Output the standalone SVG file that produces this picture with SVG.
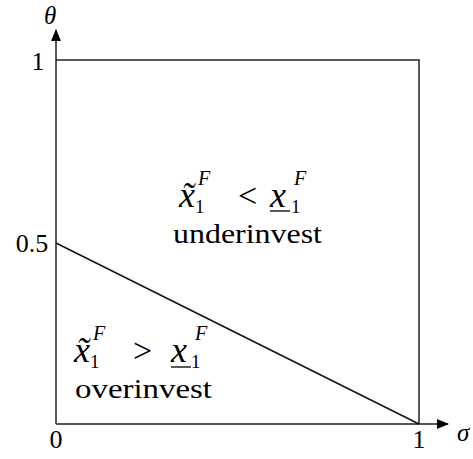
<svg xmlns="http://www.w3.org/2000/svg" width="473" height="459" viewBox="0 0 473 459">
<style>
.t{font-family:"Liberation Serif","DejaVu Serif",serif;fill:#000}
.m{font-family:"Liberation Serif","DejaVu Serif",serif;font-style:italic;fill:#000}
.ax{stroke:#555;stroke-width:2;fill:none}
.bd{stroke:#222;stroke-width:1.5;fill:none}
</style>
<defs>
<marker id="ar" viewBox="0 0 12 10" refX="11" refY="5" markerWidth="12" markerHeight="10" markerUnits="userSpaceOnUse" orient="auto">
<path d="M0,0 L12,5 L0,10 Z" fill="#000"/>
</marker>
</defs>
<rect width="473" height="459" fill="#fff"/>
<g id="connectors">
<line class="ax" x1="56" y1="424" x2="56" y2="30" marker-end="url(#ar)"/>
<line class="ax" x1="56" y1="424" x2="448" y2="424" marker-end="url(#ar)"/>
<polyline class="bd" points="56,60 419,60 419,424"/>
<line stroke="#111" stroke-width="1.5" x1="56" y1="243" x2="419" y2="424"/>
</g>
<g id="labels">
<text class="m" x="44" y="24" font-size="25">θ</text>
<text class="m" x="457" y="441" font-size="25">σ</text>
<text class="t" x="38" y="70" font-size="26" text-anchor="middle">1</text>
<text class="t" x="32" y="252" font-size="26" text-anchor="middle">0.5</text>
<text class="t" x="56" y="448" font-size="26" text-anchor="middle">0</text>
<text class="t" x="419" y="448" font-size="26" text-anchor="middle">1</text>
</g>
<g id="region-under">
<text class="m" x="179" y="207" font-size="36">x̃</text>
<text class="m" x="198" y="185" font-size="20">F</text>
<text class="t" x="195" y="213" font-size="19">1</text>
<text class="t" x="238" y="207" font-size="34">&lt;</text>
<text class="m" x="270" y="207" font-size="36">x</text>
<line x1="270" y1="211" x2="290" y2="211" stroke="#000" stroke-width="1.3"/>
<text class="m" x="294" y="185" font-size="20">F</text>
<text class="t" x="291" y="213" font-size="19">1</text>
<text class="t" x="173" y="243" font-size="28" textLength="149" lengthAdjust="spacingAndGlyphs">underinvest</text>
</g>
<g id="region-over">
<text class="m" x="74" y="362" font-size="36">x̃</text>
<text class="m" x="93" y="340" font-size="20">F</text>
<text class="t" x="90" y="368" font-size="19">1</text>
<text class="t" x="133" y="362" font-size="34">&gt;</text>
<text class="m" x="171" y="362" font-size="36">x</text>
<line x1="171" y1="367" x2="191" y2="367" stroke="#000" stroke-width="1.3"/>
<text class="m" x="195" y="340" font-size="20">F</text>
<text class="t" x="191" y="368" font-size="19">1</text>
<text class="t" x="75" y="398" font-size="28" textLength="137" lengthAdjust="spacingAndGlyphs">overinvest</text>
</g>
</svg>
